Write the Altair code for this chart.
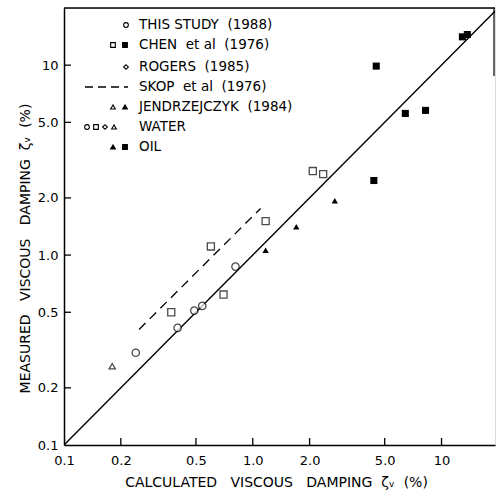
import altair as alt
import pandas as pd

# ---- data ----
this_x = [0.24, 0.40, 0.49, 0.54, 0.81]
this_y = [0.306, 0.414, 0.51, 0.54, 0.87]
chen_water_x = [0.37, 0.60, 0.70, 1.17, 2.08, 2.36]
chen_water_y = [0.50, 1.11, 0.62, 1.51, 2.77, 2.67]
chen_oil_x = [4.38, 4.51, 6.43, 8.23, 12.9, 13.7]
chen_oil_y = [2.47, 9.89, 5.57, 5.78, 14.1, 14.5]
jen_water_x = [0.18]
jen_water_y = [0.26]
jen_oil_x = [1.17, 1.70, 2.72]
jen_oil_y = [1.06, 1.41, 1.93]
skop_x = [0.25, 1.10]
skop_y = [0.406, 1.76]
diag_v = [0.1, 20.0]
tick_vals = [0.1, 0.2, 0.5, 1.0, 2.0, 5.0, 10.0]
inner_ticks = [0.2, 0.5, 1.0, 2.0, 5.0, 10.0]

legend_labels = [
    "THIS\u00a0STUDY\u00a0\u00a0(1988)",
    "CHEN\u00a0\u00a0et\u00a0al\u00a0\u00a0(1976)",
    "ROGERS\u00a0\u00a0(1985)",
    "SKOP\u00a0\u00a0et\u00a0al\u00a0\u00a0(1976)",
    "JENDRZEJCZYK\u00a0\u00a0(1984)",
    "WATER",
    "OIL",
]

W, H = 431, 437
FONT = "DejaVu Sans"
xs = alt.Scale(type="log", domain=[0.1, 19.2], nice=False)
ys = alt.Scale(type="log", domain=[0.1, 20], nice=False)

label_expr = "datum.value >= 10 ? '10' : format(datum.value, '.1f')"

def pts(xv, yv):
    return pd.DataFrame({"x": xv, "y": yv})

X = lambda: alt.X("x:Q", scale=xs)
Y = lambda: alt.Y("y:Q", scale=ys)

base_axes = alt.Chart(pts(diag_v, diag_v)).mark_line(color="black", strokeWidth=1.4, clip=True).encode(
    x=alt.X("x:Q", scale=xs,
            axis=alt.Axis(values=tick_vals, labelExpr=label_expr, ticks=False, grid=False,
                          domainColor="black", domainWidth=1.5, labelFont=FONT, labelFontSize=13,
                          labelColor="black", labelPadding=9, labelFlush=False, labelOverlap=False,
                          title="CALCULATED\u00a0\u00a0\u00a0VISCOUS\u00a0\u00a0\u00a0DAMPING\u00a0\u00a0\u03b6\u1d65\u00a0\u00a0(%)",
                          titleFont=FONT, titleFontSize=14, titleFontWeight="normal", titleColor="black",
                          titleX=212, titleY=41, titleBaseline="alphabetic")),
    y=alt.Y("y:Q", scale=ys,
            axis=alt.Axis(values=tick_vals, labelExpr=label_expr, ticks=False, grid=False,
                          domainColor="black", domainWidth=1.5, labelFont=FONT, labelFontSize=13,
                          labelColor="black", labelPadding=6, labelFlush=False, labelOverlap=False,
                          title="MEASURED\u00a0\u00a0\u00a0VISCOUS\u00a0\u00a0\u00a0DAMPING\u00a0\u00a0\u03b6\u1d65\u00a0\u00a0(%)",
                          titleFont=FONT, titleFontSize=14, titleFontWeight="normal", titleColor="black",
                          titleX=-35, titleY=240, titleAngle=-90, titleBaseline="alphabetic")),
)

skop = alt.Chart(pts(skop_x, skop_y)).mark_line(color="black", strokeWidth=1.3, strokeDash=[9, 6]).encode(x=X(), y=Y())

open_c = alt.Chart(pts(this_x, this_y)).mark_point(shape="circle", size=55, color="black", strokeWidth=1.3, fill="white", filled=False).encode(x=X(), y=Y())
open_s = alt.Chart(pts(chen_water_x, chen_water_y)).mark_point(shape="square", size=50, color="black", strokeWidth=1.3, fill="white").encode(x=X(), y=Y())
fill_s = alt.Chart(pts(chen_oil_x, chen_oil_y)).mark_point(shape="square", size=50, color="black", filled=True, opacity=1).encode(x=X(), y=Y())
open_t = alt.Chart(pts(jen_water_x, jen_water_y)).mark_point(shape="triangle-up", size=40, color="black", strokeWidth=1.3, fill="white").encode(x=X(), y=Y())
fill_t = alt.Chart(pts(jen_oil_x, jen_oil_y)).mark_point(shape="triangle-up", size=40, color="black", filled=True, opacity=1).encode(x=X(), y=Y())

xt = alt.Chart(pd.DataFrame({"x": inner_ticks})).mark_rule(color="black", strokeWidth=1.3).encode(
    x=alt.X("x:Q", scale=xs), y=alt.value(H), y2=alt.value(H - 7))
yt = alt.Chart(pd.DataFrame({"y": inner_ticks})).mark_rule(color="black", strokeWidth=1.3).encode(
    y=alt.Y("y:Q", scale=ys), x=alt.value(0), x2=alt.value(7))

frame_top = alt.Chart(pd.DataFrame({"a": [0]})).mark_rule(color="black", strokeWidth=1.5).encode(
    x=alt.value(0), x2=alt.value(W), y=alt.value(0))
frame_right = alt.Chart(pd.DataFrame({"a": [0]})).mark_rule(color="black", strokeWidth=1.2).encode(
    x=alt.value(W - 1), y=alt.value(0), y2=alt.value(68))

# ---- legend (hand-built) ----
row_y = [17, 37, 59, 79, 99, 119, 139]
TX = 75
leg_text = alt.Chart(pd.DataFrame({"t": legend_labels, "py": row_y})).mark_text(
    align="left", baseline="middle", font=FONT, fontSize=13.5, color="black").encode(
    text="t:N", x=alt.value(TX), y=alt.Y("py:Q", scale=None))

leg_syms = pd.DataFrame({
    "px": [62, 49, 61, 62, 49, 61, 23, 32, 41, 50, 49, 61],
    "py": [17, 37, 37, 59, 99, 99, 119, 119, 119, 119, 139, 139],
    "shape": ["circle", "square", "square", "diamond", "triangle-up", "triangle-up",
              "circle", "square", "diamond", "triangle-up", "triangle-up", "square"],
    "fill": ["white", "white", "black", "white", "white", "black",
             "white", "white", "white", "white", "black", "black"],
})
leg_pts = alt.Chart(leg_syms).mark_point(size=22, color="black", strokeWidth=1.1, opacity=1).encode(
    x=alt.X("px:Q", scale=None), y=alt.Y("py:Q", scale=None),
    shape=alt.Shape("shape:N", scale=None),
    fill=alt.Fill("fill:N", scale=None))
leg_dash = alt.Chart(pd.DataFrame({"a": [0]})).mark_rule(color="black", strokeWidth=1.3, strokeDash=[8, 5]).encode(
    x=alt.value(21), x2=alt.value(64), y=alt.value(79))

chart = alt.layer(base_axes, skop, open_c, open_s, fill_s, open_t, fill_t, xt, yt,
                  frame_top, frame_right, leg_text, leg_pts, leg_dash).properties(
    width=W, height=H,
    padding={"left": 64, "top": 8, "right": 1, "bottom": 47},
    autosize=alt.AutoSizeParams(type="none"),
).configure_view(stroke=None).configure(background="white")

chart.save("out.html", embed_options={"renderer": "svg", "actions": False})
